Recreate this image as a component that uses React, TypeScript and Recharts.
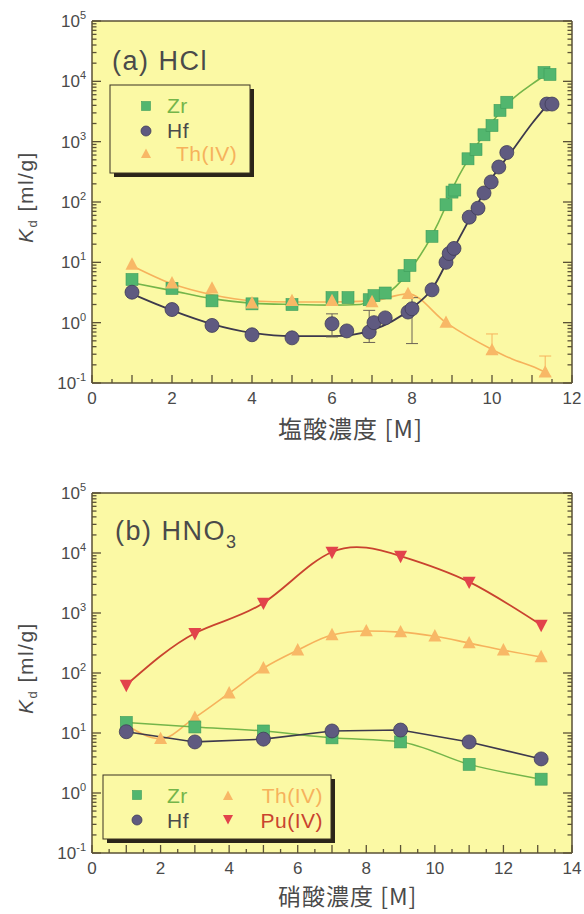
import React from 'react'
import { ComposedChart, Line, Scatter, XAxis, YAxis, CartesianGrid, ErrorBar } from 'recharts'

const FONT = '"Liberation Sans", Arial, sans-serif'
const CJK = '"Noto Sans CJK JP", "Noto Sans", sans-serif'

const AXIS = '#5a5136'
const INK = '#4a4a4a'
const PLOT_BG = '#fbf9a4'
const ZR_FILL = '#52b66e'
const ZR_LINE = '#74b54a'
const HF_FILL = '#5f5a80'
const HF_LINE = '#3d394d'
const TH_FILL = '#f8b866'
const TH_LINE = '#f6b25c'
const PU_FILL = '#e2434b'
const PU_LINE = '#c9432f'

// (a) HCl, measured points
const hclZrX = [1, 2, 3, 4, 5, 6, 6.4, 6.93, 7.05, 7.33, 7.8, 7.95, 8.5, 8.85, 9.0, 9.07, 9.4, 9.6, 9.8, 10.0, 10.2, 10.37, 11.3, 11.45]
const hclZrY = [5.2, 3.7, 2.3, 2.05, 2.0, 2.6, 2.6, 2.4, 2.8, 3.1, 6.0, 8.9, 27, 90, 146, 158, 520, 740, 1300, 1850, 3300, 4500, 14000, 13000]

const hclHfX = [1, 2, 3, 4, 5, 6, 6.37, 6.93, 7.05, 7.33, 7.9, 8.0, 8.5, 8.85, 8.93, 9.05, 9.43, 9.65, 9.8, 9.98, 10.17, 10.37, 11.37, 11.5]
const hclHfY = [3.2, 1.65, 0.9, 0.63, 0.56, 0.96, 0.73, 0.7, 1.0, 1.2, 1.5, 1.7, 3.5, 10, 14, 17, 56, 79, 141, 215, 380, 660, 4200, 4200]
const hclHfErr: ([number, number] | null)[] = [null, null, null, null, null, [0.38, 0.44], null, [0.23, 0.9], null, null, null, [1.25, 0.9], null, null, null, null, null, null, null, null, null, null, null, null]

const hclThX = [1, 2, 3, 4, 5, 6, 7, 7.9, 8.85, 10, 11.33]
const hclThY = [9.2, 4.5, 3.7, 2.1, 2.3, 2.3, 2.2, 3.0, 1.0, 0.35, 0.15]
const hclThErr: ([number, number] | null)[] = [null, null, null, null, null, null, null, null, null, [0.05, 0.3], [0.02, 0.13]]

// (a) HCl, fitted curves
const hclZrFitX = [1, 2, 3, 4, 5, 6, 6.7, 7, 7.5, 8, 8.5, 8.8, 9, 9.5, 10, 10.5, 11, 11.4]
const hclZrFitY = [4.6, 3.4, 2.5, 2.1, 2.0, 1.95, 2.0, 2.5, 3.5, 8.3, 28, 73, 158, 640, 2100, 5000, 9000, 13500]
const hclHfFitX = [1, 2, 3, 4, 5, 6, 6.5, 7, 7.5, 8, 8.5, 9, 9.5, 10, 10.5, 11, 11.4]
const hclHfFitY = [3.0, 1.6, 0.95, 0.68, 0.6, 0.6, 0.63, 0.75, 1.05, 1.75, 3.6, 15, 62, 250, 700, 2000, 4200]
const hclThFitX = [1, 2, 3, 4, 5, 6, 7, 7.9, 8.85, 10, 10.5, 11, 11.35]
const hclThFitY = [8.8, 4.4, 2.9, 2.3, 2.2, 2.2, 2.3, 3.0, 1.0, 0.36, 0.25, 0.19, 0.15]

// (b) HNO3
const hno3X = [1, 3, 5, 7, 9, 11, 13.1]
const hno3ZrY = [15, 12.6, 10.8, 8.3, 7.1, 3.0, 1.7]
const hno3HfY = [10.5, 7.1, 7.9, 10.8, 11.2, 7.1, 3.7]
const hno3PuY = [63, 460, 1470, 10400, 8900, 3300, 630]
const hno3ThX = [1, 2, 3, 4, 5, 6, 7, 8, 9, 10, 11, 12, 13.1]
const hno3ThY = [13.6, 8, 18, 46, 120, 240, 430, 500, 480, 410, 315, 240, 185]

// ticks
const hclXLabels = [0, 2, 4, 6, 8, 10, 12]
const hno3XLabels = [0, 2, 4, 6, 8, 10, 12, 14]
const yDecades = [0.1, 1, 10, 100, 1000, 10000, 100000]

const halfSteps = (max: number) => Array.from({ length: max * 2 + 1 }, (_, i) => i / 2)
const logTicks = yDecades.flatMap((d, i) =>
  i === yDecades.length - 1 ? [d] : [1, 2, 3, 4, 5, 6, 7, 8, 9].map((m) => m * d)
)

const pts = (xs: number[], ys: number[], errs?: ([number, number] | null)[]) =>
  xs.map((x, i) => (errs && errs[i] ? { x, y: ys[i], err: errs[i] } : { x, y: ys[i] }))

const isDecade = (v: number) => Math.abs(Math.log10(v) - Math.round(Math.log10(v))) < 1e-6

function XTick(props: any) {
  const { x, y, payload, side, labels } = props
  const v = payload.value
  const len = Number.isInteger(v) ? 8 : 4
  const dir = side === 'bottom' ? -1 : 1
  return (
    <g>
      <line x1={x} x2={x} y1={y} y2={y + dir * len} stroke={AXIS} strokeWidth={1.3} />
      {side === 'bottom' && labels.includes(v) && (
        <text x={x} y={y + 21} textAnchor="middle" fontSize={17} fill={INK} fontFamily={FONT}>
          {v}
        </text>
      )}
    </g>
  )
}

function YTick(props: any) {
  const { x, y, payload, side } = props
  const v = payload.value
  const major = isDecade(v)
  const len = major ? 9 : 4.5
  const dir = side === 'left' ? 1 : -1
  return (
    <g>
      <line x1={x} x2={x + dir * len} y1={y} y2={y} stroke={AXIS} strokeWidth={1.3} />
      {side === 'left' && major && (
        <text x={x - 6} y={y + 6} textAnchor="end" fontSize={17} fill={INK} fontFamily={FONT}>
          10
          <tspan dy={-8} fontSize={11}>
            {Math.round(Math.log10(v))}
          </tspan>
        </text>
      )}
    </g>
  )
}

const Square = ({ cx, cy, s = 12 }: any) => (
  <rect x={cx - s / 2} y={cy - s / 2} width={s} height={s} fill={ZR_FILL} stroke="#3f9d5a" strokeWidth={0.6} />
)
const Dot = ({ cx, cy, r = 7 }: any) => (
  <circle cx={cx} cy={cy} r={r} fill={HF_FILL} stroke="#403c58" strokeWidth={0.8} />
)
const TriUp = ({ cx, cy, s = 13, fill = TH_FILL }: any) => (
  <polygon points={`${cx},${cy - s * 0.55} ${cx - s / 2},${cy + s * 0.4} ${cx + s / 2},${cy + s * 0.4}`} fill={fill} />
)
const TriDown = ({ cx, cy, s = 13, fill = PU_FILL }: any) => (
  <polygon points={`${cx},${cy + s * 0.55} ${cx - s / 2},${cy - s * 0.4} ${cx + s / 2},${cy - s * 0.4}`} fill={fill} />
)

// axes are 1px thick so that Recharts still draws them; margins are 1px smaller to compensate
function axes(xMax: number, xLabels: number[]) {
  const xt = halfSteps(xMax)
  const common = { type: 'number' as const, allowDataOverflow: true, interval: 0 as const, tickSize: 0, tickMargin: 0, tickLine: false }
  const line = { stroke: AXIS, strokeWidth: 1.5 }
  return [
    <CartesianGrid key="g" fill={PLOT_BG} stroke="none" horizontal={false} vertical={false} />,
    <XAxis key="xb" {...common} dataKey="x" domain={[0, xMax]} ticks={xt} height={1} axisLine={line}
      tick={(p: any) => <XTick {...p} side="bottom" labels={xLabels} />} />,
    <XAxis key="xt" {...common} xAxisId="top" orientation="top" domain={[0, xMax]} ticks={xt} height={1} axisLine={line}
      tick={(p: any) => <XTick {...p} side="top" labels={xLabels} />} />,
    <YAxis key="yl" {...common} dataKey="y" scale="log" domain={[0.1, 100000]} ticks={logTicks} width={1} axisLine={line}
      tick={(p: any) => <YTick {...p} side="left" />} />,
    <YAxis key="yr" {...common} yAxisId="right" orientation="right" scale="log" domain={[0.1, 100000]} ticks={logTicks} width={1} axisLine={line}
      tick={(p: any) => <YTick {...p} side="right" />} />,
  ]
}

function HclChart() {
  return (
    <ComposedChart width={584} height={440} margin={{ top: 20, right: 11, bottom: 56, left: 91 }}>
      {axes(12, hclXLabels)}
      <Line data={pts(hclThFitX, hclThFitY)} dataKey="y" type="monotone" stroke={TH_LINE} strokeWidth={1.6} dot={false} isAnimationActive={false} />
      <Line data={pts(hclZrFitX, hclZrFitY)} dataKey="y" type="monotone" stroke={ZR_LINE} strokeWidth={1.6} dot={false} isAnimationActive={false} />
      <Line data={pts(hclHfFitX, hclHfFitY)} dataKey="y" type="monotone" stroke={HF_LINE} strokeWidth={1.8} dot={false} isAnimationActive={false} />
      <Scatter data={pts(hclZrX, hclZrY)} dataKey="y" isAnimationActive={false} shape={(p: any) => <Square cx={p.cx} cy={p.cy} />} />
      <Scatter data={pts(hclThX, hclThY, hclThErr)} dataKey="y" isAnimationActive={false} shape={(p: any) => <TriUp cx={p.cx} cy={p.cy} />}>
        <ErrorBar dataKey="err" direction="y" width={6} stroke={TH_LINE} strokeWidth={1} />
      </Scatter>
      <Scatter data={pts(hclHfX, hclHfY, hclHfErr)} dataKey="y" isAnimationActive={false} shape={(p: any) => <Dot cx={p.cx} cy={p.cy} />}>
        <ErrorBar dataKey="err" direction="y" width={6} stroke="#6a6256" strokeWidth={1} />
      </Scatter>
    </ComposedChart>
  )
}

function Hno3Chart() {
  return (
    <ComposedChart width={584} height={454} margin={{ top: 32, right: 11, bottom: 60, left: 91 }}>
      {axes(14, hno3XLabels)}
      <Line data={pts(hno3X, hno3PuY)} dataKey="y" type="natural" stroke={PU_LINE} strokeWidth={1.8} dot={false} isAnimationActive={false} />
      <Line data={pts(hno3ThX, hno3ThY)} dataKey="y" type="monotone" stroke={TH_LINE} strokeWidth={1.6} dot={false} isAnimationActive={false} />
      <Line data={pts(hno3X, hno3ZrY)} dataKey="y" type="monotone" stroke={ZR_LINE} strokeWidth={1.5} dot={false} isAnimationActive={false} />
      <Line data={pts(hno3X, hno3HfY)} dataKey="y" type="linear" stroke={HF_LINE} strokeWidth={1.6} dot={false} isAnimationActive={false} />
      <Scatter data={pts(hno3ThX, hno3ThY)} dataKey="y" isAnimationActive={false} shape={(p: any) => <TriUp cx={p.cx} cy={p.cy} />} />
      <Scatter data={pts(hno3X, hno3PuY)} dataKey="y" isAnimationActive={false} shape={(p: any) => <TriDown cx={p.cx} cy={p.cy} />} />
      <Scatter data={pts(hno3X, hno3ZrY)} dataKey="y" isAnimationActive={false} shape={(p: any) => <Square cx={p.cx} cy={p.cy} />} />
      <Scatter data={pts(hno3X, hno3HfY)} dataKey="y" isAnimationActive={false} shape={(p: any) => <Dot cx={p.cx} cy={p.cy} />} />
    </ComposedChart>
  )
}

function YTitle({ cy }: { cy: number }) {
  return (
    <text transform={`translate(33,${cy}) rotate(-90)`} textAnchor="middle" fontSize={21} letterSpacing={1.5} fill={INK} fontFamily={FONT}>
      <tspan fontStyle="italic">K</tspan>
      <tspan dy={4} fontSize={13}>d</tspan>
      <tspan dy={-4}> [ml/g]</tspan>
    </text>
  )
}

export default function App() {
  const legendText = { fontSize: 21, fontFamily: FONT, letterSpacing: 0.5 }
  return (
    <div style={{ position: 'absolute', left: 0, top: 0, width: 584, height: 914, background: '#fff' }}>
      <div style={{ position: 'absolute', left: 0, top: 0 }}>
        <HclChart />
      </div>
      <div style={{ position: 'absolute', left: 0, top: 460 }}>
        <Hno3Chart />
      </div>
      <svg width={584} height={914} style={{ position: 'absolute', left: 0, top: 0, pointerEvents: 'none' }}>
        <text x={112} y={70} fontSize={27} letterSpacing={1.5} fill={INK} fontFamily={FONT}>(a) HCl</text>
        <text x={115} y={540} fontSize={27} letterSpacing={1.5} fill={INK} fontFamily={FONT}>
          (b) HNO<tspan dy={8} fontSize={18}>3</tspan>
        </text>

        <YTitle cy={197} />
        <YTitle cy={668} />
        <text x={278} y={438} fontSize={24} letterSpacing={1} fill={INK} fontFamily={CJK}>塩酸濃度 [M]</text>
        <text x={278} y={905} fontSize={23} letterSpacing={1} fill={INK} fontFamily={CJK}>硝酸濃度 [M]</text>

        {/* legend (a) */}
        <rect x={114} y={89} width={140} height={88} fill="#2b2519" />
        <rect x={110} y={85} width={140} height={88} fill={PLOT_BG} stroke="#3a3322" strokeWidth={1} />
        <Square cx={146} cy={106} s={9} />
        <Dot cx={146} cy={131} r={5} />
        <TriUp cx={146} cy={154} s={10} />
        <text x={167} y={113} fill={ZR_LINE} {...legendText}>Zr</text>
        <text x={167} y={138} fill={INK} {...legendText}>Hf</text>
        <text x={176} y={161} fill={TH_LINE} {...legendText}>Th(IV)</text>

        {/* legend (b) */}
        <rect x={107} y={779} width={228} height={64} fill="#2b2519" />
        <rect x={103} y={775} width={228} height={64} fill={PLOT_BG} stroke="#3a3322" strokeWidth={1} />
        <Square cx={137} cy={795} s={9} />
        <Dot cx={137} cy={820} r={5} />
        <TriUp cx={228} cy={796} s={10} />
        <TriDown cx={228} cy={819} s={10} />
        <text x={167} y={803} fill={ZR_LINE} {...legendText}>Zr</text>
        <text x={167} y={828} fill={INK} {...legendText}>Hf</text>
        <text x={323} y={803} textAnchor="end" fill={TH_LINE} {...legendText}>Th(IV)</text>
        <text x={323} y={828} textAnchor="end" fill={PU_LINE} {...legendText}>Pu(IV)</text>
      </svg>
    </div>
  )
}
